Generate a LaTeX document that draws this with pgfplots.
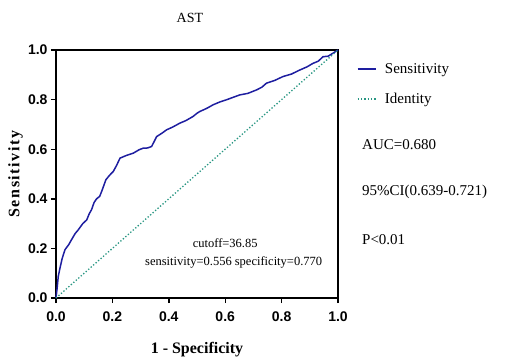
\documentclass[border=0pt]{standalone}
\usepackage{pgfplots}
\pgfplotsset{compat=1.18}
\usepackage{fontspec}
\setmainfont{Liberation Serif}
\setsansfont{Liberation Sans}
\newfontfamily\spacedserif[LetterSpace=10]{Liberation Serif}
\definecolor{roc}{RGB}{30,30,160}
\definecolor{idline}{RGB}{40,150,130}
\begin{document}
\begin{tikzpicture}
\path[use as bounding box] (0,0) rectangle (506pt,360pt);
\begin{axis}[
  at={(56pt,62pt)}, anchor=south west,
  scale only axis, width=282pt, height=248pt,
  xmin=0, xmax=1, ymin=0, ymax=1,
  xtick={0,0.2,...,1.0}, ytick={0,0.2,...,1.0},
  tick align=outside, tick pos=left,
  major tick length=5pt,
  axis line style={line width=1.4pt},
  every tick/.style={black, line width=1.4pt},
  xticklabel style={/pgf/number format/fixed, /pgf/number format/fixed zerofill, /pgf/number format/precision=1, yshift=-5pt},
  yticklabel style={/pgf/number format/fixed, /pgf/number format/fixed zerofill, /pgf/number format/precision=1},
  /pgf/number format/assume math mode=true,
  tick label style={font=\sffamily\bfseries\fontsize{14}{16}\selectfont},
  xlabel={1 - Specificity}, ylabel={Sensitivity},
  xlabel style={font=\bfseries\fontsize{16}{18}\selectfont, at={(axis description cs:0.5,-0.165)}, anchor=north},
  ylabel style={font=\spacedserif\bfseries\fontsize{16}{18}\selectfont, at={(axis description cs:-0.105,0.5)}, anchor=south},
  clip=false,
  legend style={draw=none, fill=none, at={(axis description cs:1.065,0.955)}, anchor=north west, font=\fontsize{15}{17}\selectfont, row sep=14pt, inner sep=0pt, nodes={inner xsep=8pt}},
  legend cell align=left,
  legend image code/.code={\draw[#1, line width=2.4pt] (0pt,0pt) -- (18pt,0pt);},
]
\addplot[roc, line width=1.5pt] coordinates {
(0,0) (0.004,0.04) (0.008,0.087) (0.014,0.12) (0.022,0.16) (0.032,0.195)
(0.045,0.215) (0.055,0.235) (0.068,0.26) (0.079,0.275) (0.095,0.3)
(0.109,0.315) (0.118,0.34) (0.126,0.356) (0.135,0.385) (0.144,0.40)
(0.155,0.41) (0.162,0.43) (0.170,0.455) (0.177,0.477) (0.190,0.495)
(0.203,0.51) (0.215,0.535) (0.227,0.564) (0.250,0.575) (0.274,0.584)
(0.295,0.598) (0.309,0.604) (0.325,0.605) (0.339,0.611) (0.350,0.635)
(0.357,0.651) (0.375,0.664) (0.392,0.678) (0.415,0.69) (0.439,0.705)
(0.460,0.715) (0.486,0.732) (0.500,0.745) (0.51,0.752) (0.535,0.765)
(0.557,0.779) (0.58,0.79) (0.604,0.799) (0.63,0.81) (0.652,0.819)
(0.68,0.825) (0.711,0.839) (0.73,0.85) (0.746,0.866) (0.775,0.877)
(0.805,0.893) (0.835,0.903) (0.864,0.919) (0.89,0.932) (0.911,0.946)
(0.93,0.955) (0.947,0.973) (0.965,0.975) (0.982,0.987) (1,1)
};
\addlegendentry{Sensitivity}
\addplot[idline, dotted, line width=1.3pt] coordinates {(0,0) (1,1)};
\addlegendentry{Identity}
\node[font=\fontsize{14}{16}\selectfont] at (axis description cs:0.475,1.13) {AST};
\node[font=\fontsize{12.5}{14}\selectfont] at (axis cs:0.60,0.222) {cutoff=36.85};
\node[font=\fontsize{12.5}{14}\selectfont] at (axis cs:0.63,0.145) {sensitivity=0.556 specificity=0.770};
\node[font=\fontsize{15}{17}\selectfont, anchor=west, inner sep=0pt] at (axis description cs:1.085,0.617) {AUC=0.680};
\node[font=\fontsize{15}{17}\selectfont, anchor=west, inner sep=0pt] at (axis description cs:1.085,0.427) {95\%CI(0.639-0.721)};
\node[font=\fontsize{15}{17}\selectfont, anchor=west, inner sep=0pt] at (axis description cs:1.085,0.234) {P<0.01};
\end{axis}
\end{tikzpicture}
\end{document}
